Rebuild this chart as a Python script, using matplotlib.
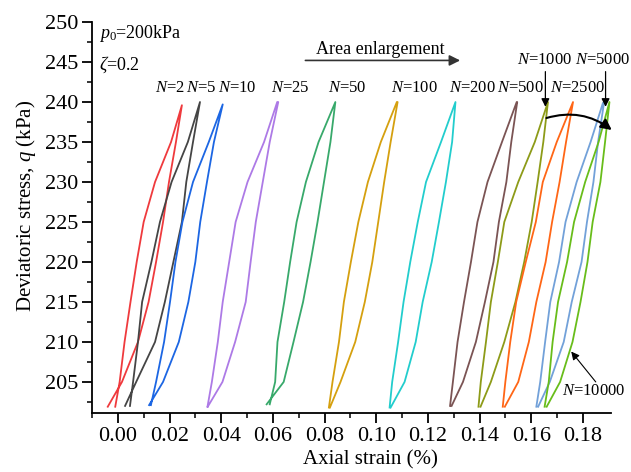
import matplotlib
matplotlib.use("Agg")
import matplotlib.pyplot as plt
import numpy as np

plt.rcParams['font.family'] = ['Liberation Serif', 'DejaVu Serif']
plt.rcParams['mathtext.fontset'] = 'custom'
plt.rcParams['mathtext.rm'] = 'Liberation Serif'
plt.rcParams['mathtext.it'] = 'Liberation Serif:italic'

# ---------------- data ----------------
cycles = ["2", "5", "10", "25", "50", "100", "200", "500", "1000", "2500", "5000", "10000"]
colors = ["#ef3a3d", "#454545", "#1c66e3", "#ad7ae6", "#38a96b", "#d5a00f",
          "#22cdcd", "#7b5454", "#8d9b18", "#ff6616", "#72a1d9", "#68bd1a"]

# stress levels (kPa) between the lower turning point and the peak
q_mid = [205, 210, 215, 220, 225, 230, 235]
q_min = [201.9, 202.0, 202.1, 201.9, 202.2, 201.8, 201.8, 202.0, 201.9, 201.9, 201.9, 201.9]
q_max = [239.6, 240.0, 239.7, 240.0, 240.0, 240.0, 240.0, 240.0, 240.0, 240.0, 239.9, 240.0]

# loading branch (left) strain (%) : [bottom, 205..235, top]
load_N2     = [-0.0010, 0.0007, 0.0026, 0.0049, 0.0073, 0.0100, 0.0144, 0.0206, 0.0248]
load_N5     = [0.0047, 0.0059, 0.0078, 0.0094, 0.0130, 0.0163, 0.0208, 0.0271, 0.0318]
load_N10    = [0.0128, 0.0148, 0.0179, 0.0202, 0.0223, 0.0250, 0.0291, 0.0352, 0.0406]
load_N25    = [0.0347, 0.0364, 0.0387, 0.0406, 0.0431, 0.0456, 0.0502, 0.0566, 0.0617]
load_N50    = [0.0588, 0.0609, 0.0618, 0.0644, 0.0667, 0.0692, 0.0728, 0.0777, 0.0842]
load_N100   = [0.0817, 0.0831, 0.0856, 0.0875, 0.0902, 0.0931, 0.0968, 0.1018, 0.1080]
load_N200   = [0.1052, 0.1062, 0.1085, 0.1106, 0.1132, 0.1161, 0.1193, 0.1251, 0.1307]
load_N500   = [0.1286, 0.1297, 0.1315, 0.1340, 0.1367, 0.1392, 0.1431, 0.1487, 0.1544]
load_N1000  = [0.1396, 0.1405, 0.1425, 0.1444, 0.1471, 0.1496, 0.1550, 0.1614, 0.1665]
load_N2500  = [0.1490, 0.1500, 0.1519, 0.1542, 0.1579, 0.1618, 0.1645, 0.1699, 0.1762]
load_N5000  = [0.1620, 0.1635, 0.1654, 0.1674, 0.1708, 0.1733, 0.1776, 0.1830, 0.1878]
load_N10000 = [0.1652, 0.1668, 0.1683, 0.1704, 0.1739, 0.1766, 0.1809, 0.1861, 0.1903]

# unloading branch (right) strain (%) : [bottom, 205..235, top]
unload_N2     = [-0.0039, 0.0016, 0.0078, 0.0119, 0.0148, 0.0175, 0.0198, 0.0225, 0.0248]
unload_N5     = [0.0028, 0.0071, 0.0144, 0.0182, 0.0215, 0.0248, 0.0265, 0.0291, 0.0318]
unload_N10    = [0.0121, 0.0175, 0.0236, 0.0273, 0.0300, 0.0319, 0.0345, 0.0372, 0.0406]
unload_N25    = [0.0348, 0.0405, 0.0454, 0.0495, 0.0514, 0.0534, 0.0561, 0.0588, 0.0621]
unload_N50    = [0.0576, 0.0642, 0.0680, 0.0717, 0.0746, 0.0773, 0.0798, 0.0823, 0.0842]
unload_N100   = [0.0821, 0.0862, 0.0919, 0.0956, 0.0985, 0.1008, 0.1031, 0.1056, 0.1083]
unload_N200   = [0.1056, 0.1110, 0.1153, 0.1180, 0.1215, 0.1243, 0.1270, 0.1294, 0.1307]
unload_N500   = [0.1292, 0.1336, 0.1386, 0.1421, 0.1454, 0.1475, 0.1504, 0.1523, 0.1546]
unload_N1000  = [0.1404, 0.1444, 0.1496, 0.1539, 0.1573, 0.1602, 0.1625, 0.1647, 0.1665]
unload_N2500  = [0.1498, 0.1550, 0.1591, 0.1620, 0.1656, 0.1681, 0.1710, 0.1735, 0.1762]
unload_N5000  = [0.1627, 0.1672, 0.1726, 0.1757, 0.1795, 0.1816, 0.1841, 0.1859, 0.1882]
unload_N10000 = [0.1660, 0.1712, 0.1760, 0.1791, 0.1818, 0.1838, 0.1868, 0.1886, 0.1903]

loading = [load_N2, load_N5, load_N10, load_N25, load_N50, load_N100,
           load_N200, load_N500, load_N1000, load_N2500, load_N5000, load_N10000]
unloading = [unload_N2, unload_N5, unload_N10, unload_N25, unload_N50, unload_N100,
             unload_N200, unload_N500, unload_N1000, unload_N2500, unload_N5000, unload_N10000]

x_ticks = [0.00, 0.02, 0.04, 0.06, 0.08, 0.10, 0.12, 0.14, 0.16, 0.18]
y_ticks = [205, 210, 215, 220, 225, 230, 235, 240, 245, 250]

# ---------------- figure ----------------
fig = plt.figure(figsize=(6.31, 4.72), dpi=100)
ax = fig.add_axes([0.1458, 0.1256, 0.8225, 0.8277])

for i in range(len(cycles)):
    q_branch = [q_min[i]] + q_mid + [q_max[i]]
    xs = list(loading[i]) + list(unloading[i])[::-1]
    qs = q_branch + q_branch[::-1]
    ax.plot(xs, qs, color=colors[i], lw=1.3, solid_joinstyle='round')

ax.set_xlim(-0.0095, 0.1909)
ax.set_ylim(201.15, 250)
ax.set_xticks(x_ticks)
ax.set_xticklabels([f"{v:.2f}" for v in x_ticks])
ax.set_xticks(np.arange(-0.01, 0.19, 0.01), minor=True)
ax.set_yticks(y_ticks)
ax.set_yticks(np.arange(202.5, 250, 2.5), minor=True)

for s in ['top', 'right']:
    ax.spines[s].set_visible(False)
for s in ['left', 'bottom']:
    ax.spines[s].set_linewidth(1.3)
ax.tick_params(which='major', direction='out', length=7, width=1.3, labelsize=16, pad=3)
ax.tick_params(which='minor', direction='out', length=3.5, width=1.1)

ax.text(0.536, -0.121, "Axial strain (%)", transform=ax.transAxes, ha='center', va='center', fontsize=15)
ax.text(-0.128, 0.529, "Deviatoric stress, $q$ (kPa)", transform=ax.transAxes, ha='center', va='center',
        rotation=90, fontsize=15)

# annotations
ax.text(-0.0072, 248.6, "$p_0$=200kPa", ha='left', va='center', fontsize=13)
ax.text(-0.0072, 244.6, "$\\zeta$=0.2", ha='left', va='center', fontsize=13)
ax.text(0.1016, 246.6, "Area enlargement", ha='center', va='center', fontsize=13)
ax.annotate("", xy=(0.1325, 245.2), xytext=(0.0726, 245.2),
            arrowprops=dict(arrowstyle='-|>', color='#333333', lw=1.2, mutation_scale=16,
                            shrinkA=0, shrinkB=0))

label_x = [0.0202, 0.0321, 0.0464, 0.0667, 0.0887, 0.1147, 0.1371, 0.1560, None, 0.1780, None, None]
for i, lx in enumerate(label_x):
    if lx is not None:
        ax.text(lx, 241.8, f"$N$={cycles[i]}", ha='center', va='center', fontsize=12)

ax.text(0.1652, 245.3, "$N$=1000", ha='center', va='center', fontsize=12)
ax.text(0.1878, 245.3, "$N$=5000", ha='center', va='center', fontsize=12)
for xa in [0.1655, 0.1888]:
    ax.annotate("", xy=(xa, 239.4), xytext=(xa, 243.8),
                arrowprops=dict(arrowstyle='-|>', color='black', lw=0.9, mutation_scale=12,
                                shrinkA=0, shrinkB=0), annotation_clip=False)

ax.annotate("", xy=(0.1912, 236.5), xytext=(0.1659, 238.0),
            arrowprops=dict(arrowstyle='-|>', color='black', lw=1.5, mutation_scale=16,
                            shrinkA=0, shrinkB=0, connectionstyle='arc3,rad=-0.25'),
            annotation_clip=False)

ax.text(0.1842, 203.9, "$N$=10000", ha='center', va='center', fontsize=12)
ax.annotate("", xy=(0.1755, 208.8), xytext=(0.1850, 205.0),
            arrowprops=dict(arrowstyle='-|>', color='black', lw=0.8, mutation_scale=12,
                            shrinkA=0, shrinkB=0))

fig.savefig("out.png", dpi=100)
